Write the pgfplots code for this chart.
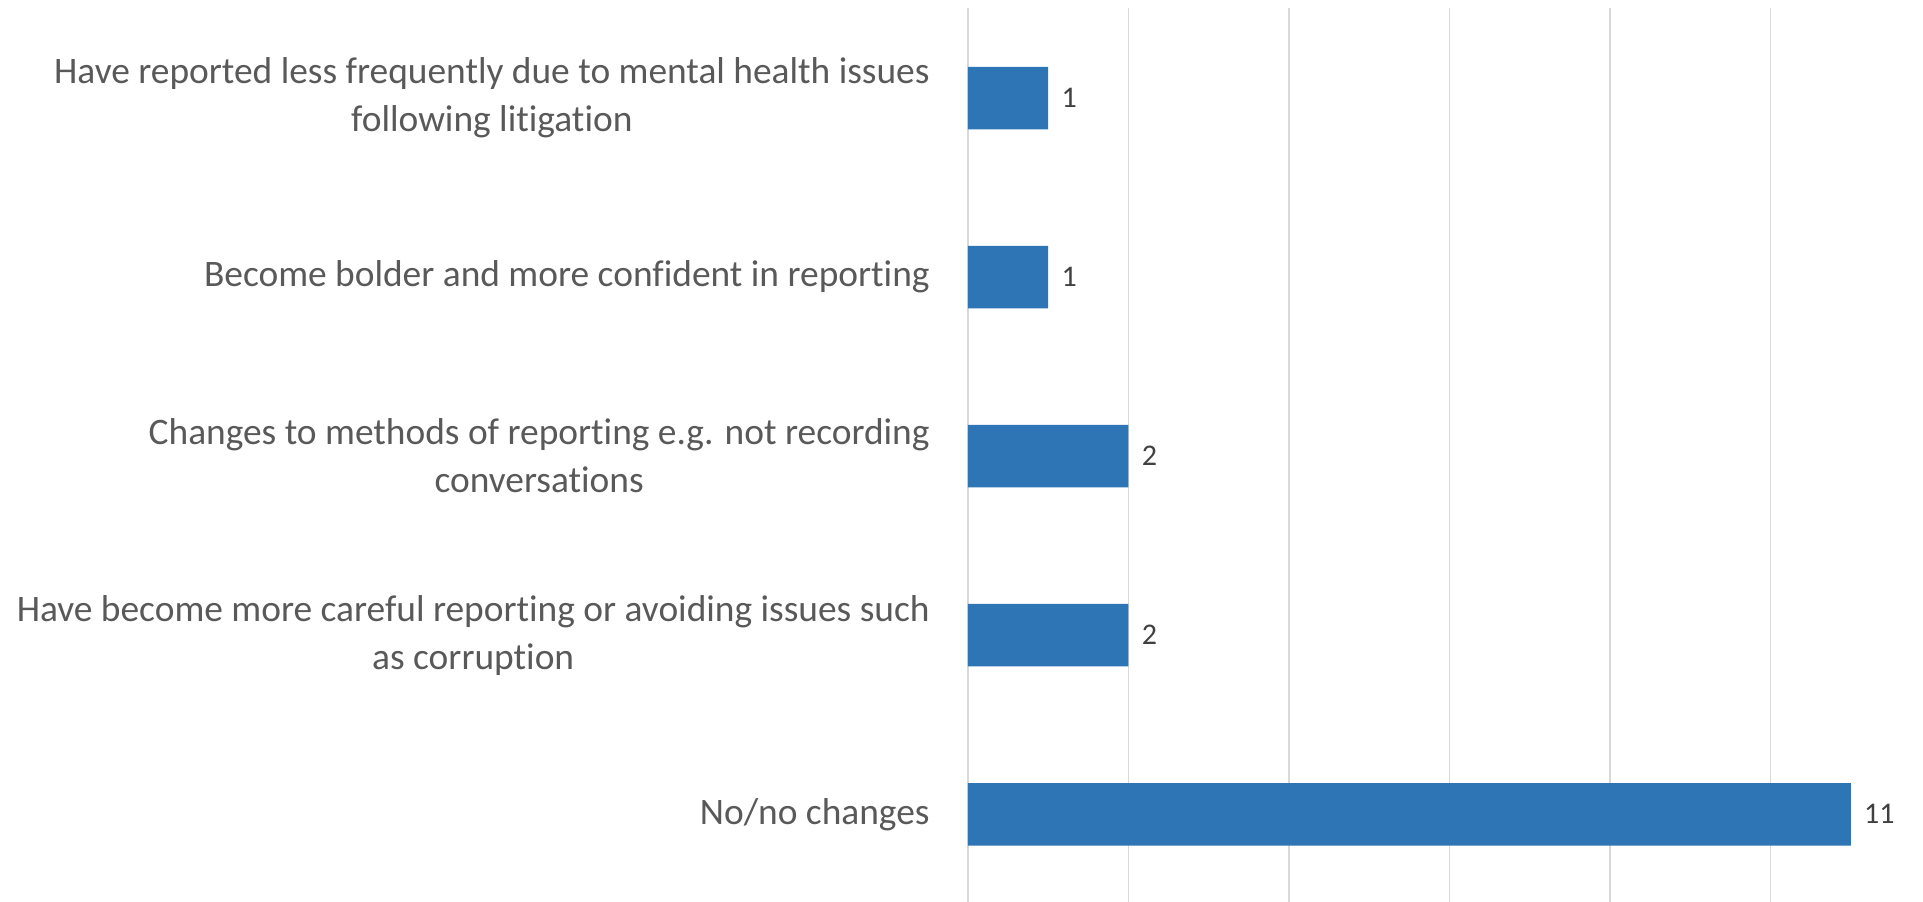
\documentclass[border=0pt]{standalone}
\usepackage{pgfplots}
\pgfplotsset{compat=1.18}
\usepackage{fontspec}
\setmainfont{Carlito}[Ligatures=NoCommon]
\definecolor{barblue}{HTML}{2E75B6}
\definecolor{labgray}{HTML}{595959}
\definecolor{datgray}{HTML}{404040}
\definecolor{gridgray}{HTML}{D9D9D9}
\begin{document}
\begin{tikzpicture}
\path[use as bounding box] (-484bp,0bp) rectangle (477.5bp,451bp);
\begin{axis}[
  at={(0,0)}, anchor=south west,
  scale only axis,
  width=477.5bp, height=446.75bp,
  xbar,
  bar width=31.25bp,
  xmin=0, xmax=11.9,
  ymin=-0.49, ymax=4.5,
  axis line style={draw=none},
  xtick={0,2,...,10},
  xticklabels={},
  xmajorgrids,
  grid style={gridgray, line width=0.9bp},
  major tick length=0pt,
  ytick={0,1,2,3,4},
  yticklabels={
    No/no changes,
    {Have become more careful reporting or avoiding issues such\\as corruption},
    {Changes to methods of reporting e.g. not recording\\conversations},
    Become bolder and more confident in reporting,
    {Have reported less frequently due to mental health issues\\following litigation}},
  yticklabel style={align=center, font=\fontsize{18.7bp}{24bp}\selectfont, text=labgray, inner sep=0pt, anchor=east, xshift=-19bp},
  /pgf/number format/assume math mode=true,
  nodes near coords,
  every node near coord/.append style={anchor=west, inner sep=0pt, xshift=6.5bp, font=\fontsize{15bp}{18bp}\selectfont, text=datgray},
  clip=false,
]
\addplot[fill=barblue, draw=none] coordinates {(11,0) (2,1) (2,2) (1,3) (1,4)};
\end{axis}
\end{tikzpicture}
\end{document}
